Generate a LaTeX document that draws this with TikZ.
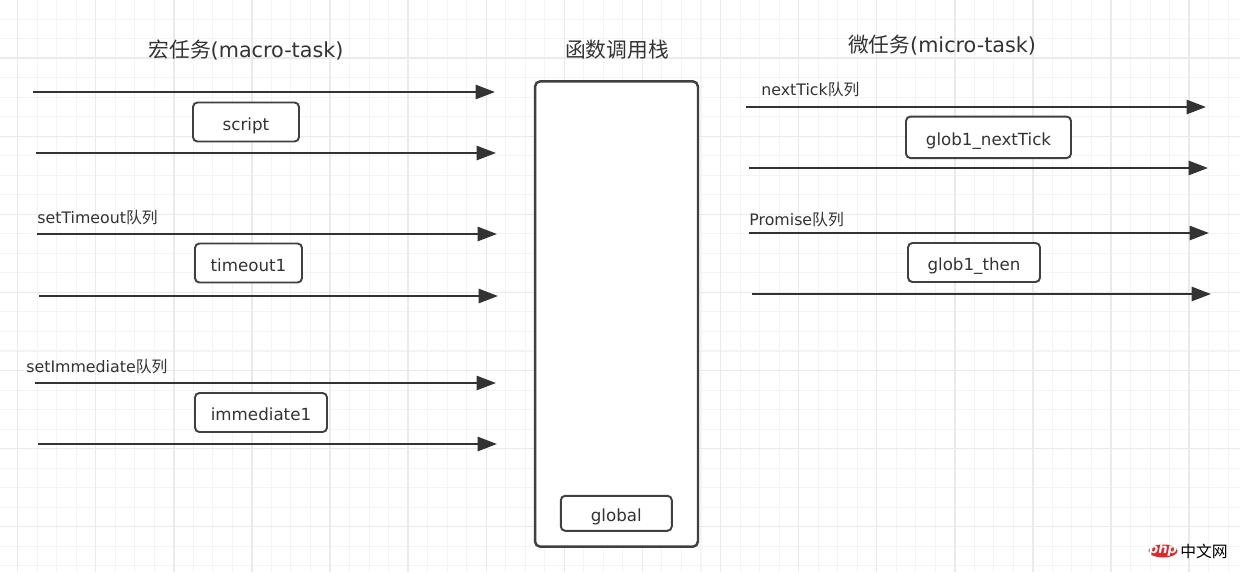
\documentclass[tikz,border=0pt]{standalone}
\usepackage{fontspec}
\setmainfont{DejaVu Sans}
\newfontfamily\cjk{Noto Sans CJK SC}
\usepackage{xcolor}
\definecolor{grid-minor}{HTML}{F4F4F4}
\definecolor{grid-major}{HTML}{EAEAEA}
\definecolor{ink}{HTML}{333333}
\definecolor{box-line}{HTML}{404040}
\definecolor{php-red}{HTML}{E3262B}
\usepackage{tikz}
\usetikzlibrary{arrows.meta}

\tikzset{
    queue/.style={draw=ink, line width=1.35pt, -{Triangle[length=11pt, width=8pt]}},
    taskbox/.style={draw=box-line, line width=1.1pt, rounded corners=2.5pt, fill=white,
                    text=ink, inner sep=0pt, text height=9.4pt, text depth=0pt,
                    font=\fontsize{9.5}{11}\selectfont},
    stackbox/.style={draw=box-line, line width=1.4pt, rounded corners=3pt, fill=white, inner sep=0pt},
    title/.style={text=ink, inner sep=0pt, font=\fontsize{11.8}{14}\selectfont},
    qlabel/.style={text=ink, anchor=west, inner sep=0pt, font=\fontsize{9}{11}\selectfont},
}

\begin{document}
\begin{tikzpicture}[x=0.02cm, y=-0.02cm]

    % Background
    \useasboundingbox (0, 0) rectangle (1240, 572);
    \fill[white] (0, 0) rectangle (1240, 572);

    % Grid
    \foreach \k [evaluate=\k as \gx using 17.6+19.525*\k] in {0,...,62}
        \draw[grid-minor, line width=0.6pt] (\gx, 0) -- (\gx, 572);
    \foreach \k [evaluate=\k as \gy using 19.05+19.525*\k] in {0,...,28}
        \draw[grid-minor, line width=0.6pt] (0, \gy) -- (1240, \gy);
    \foreach \k [evaluate=\k as \gx using 17.6+78.1*\k] in {0,...,15}
        \draw[grid-major, line width=0.8pt] (\gx, 0) -- (\gx, 572);
    \foreach \k [evaluate=\k as \gy using 58.1+78.1*\k] in {0,...,6}
        \draw[grid-major, line width=0.8pt] (0, \gy) -- (1240, \gy);

    % Titles
    \node[title] (macro) at (246, 50) {{\cjk 宏任务}(macro-task)};
    \node[title] (callstack) at (617, 50) {{\cjk 函数调用栈}};
    \node[title] (micro) at (942, 45) {{\cjk 微任务}(micro-task)};

    % Queue labels
    \node[qlabel] (timeoutq) at (37, 218) {setTimeout{\cjk 队列}};
    \node[qlabel] (immediateq) at (26, 367) {setImmediate{\cjk 队列}};
    \node[qlabel] (tickq) at (761, 90) {nextTick{\cjk 队列}};
    \node[qlabel] (promiseq) at (749, 220) {Promise{\cjk 队列}};

    % Queue lines
    \foreach \xa/\xb/\y in {33/495/92, 36/496/153, 37/497/234, 39/498/296, 35/496/383,
                            38/497/444, 746/1206/107, 749/1208/168, 749/1209/233, 752/1211/294}
        \draw[queue] (\xa, \y) -- (\xb, \y);

    % Macro tasks
    \node[taskbox, minimum width=2.12cm, minimum height=0.78cm] (script) at (246, 122) {script};
    \node[taskbox, minimum width=2.14cm, minimum height=0.78cm] (timeout1) at (248.5, 263) {timeout1};
    \node[taskbox, minimum width=2.64cm, minimum height=0.78cm] (immediate1) at (261, 412.5) {immediate1};

    % Call stack
    \node[stackbox, minimum width=3.26cm, minimum height=9.31cm] (stack) at (616.5, 314) {};
    \node[taskbox, minimum width=2.22cm, minimum height=0.70cm] (global) at (616.3, 513.3) {global};

    % Micro tasks
    \node[taskbox, minimum width=3.30cm, minimum height=0.83cm] (nexttick) at (988.5, 137.3) {glob1\_nextTick};
    \node[taskbox, minimum width=2.64cm, minimum height=0.78cm] (then) at (974, 262.5) {glob1\_then};

    % Watermark
    \fill[php-red] (1163, 551) ellipse (14.5 and 6.5);
    \node[text=white, inner sep=0pt, font=\bfseries\itshape\fontsize{7.5}{8}\selectfont] (php) at (1163, 550) {php};
    \node[text=black, inner sep=0pt, font=\cjk\fontsize{9}{10}\selectfont] (cn) at (1204, 551) {中文网};

\end{tikzpicture}
\end{document}
